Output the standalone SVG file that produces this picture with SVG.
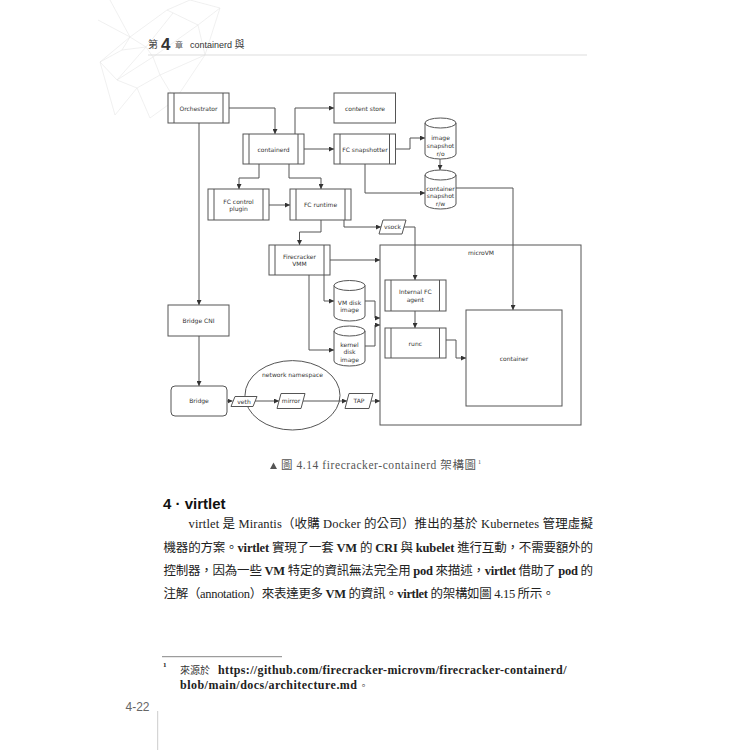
<svg xmlns="http://www.w3.org/2000/svg" width="750" height="750" viewBox="0 0 750 750" xml:lang="zh-TW" lang="zh-TW">
<style>
.box{fill:#fff;stroke:#555;stroke-width:1}
.sep{fill:none;stroke:#555;stroke-width:1}
.edge{fill:none;stroke:#555;stroke-width:1;marker-end:url(#arr)}
.lbl{font-family:"DejaVu Sans",sans-serif;font-size:6px;fill:#333;text-anchor:middle}
.mesh{fill:none;stroke:#e6e6e6;stroke-width:0.6}
.para{font-family:"Liberation Serif","Noto Sans CJK TC",serif;font-size:12.5px;fill:#222}
.b{font-weight:bold}
</style>
<defs>
<marker id="arr" markerUnits="userSpaceOnUse" markerWidth="5" markerHeight="5" refX="5" refY="2.5" orient="auto">
<path d="M0,0 L5,2.5 L0,5 z" fill="#333"/>
</marker>
</defs>
<rect width="750" height="750" fill="#fff"/>

<g id="mesh">
<path class="mesh" d="M100,62 L130,37 L167,10 L190,0 M167,10 L198,25 L220,8 L190,0 M173,13 L146,47 L130,37 L122,50 L100,62 L117,80 L137,88 L160,75 L153,57 L146,47 M122,50 L146,47 L117,80 M153,57 L198,25 L205,55 L160,75 M117,80 L153,57 M137,88 L115,115 L100,62 M137,88 L150,118 L175,100 L160,75 M175,100 L205,55 M98,20 L130,37 L110,0 M205,55 L220,8"/>
</g>

<g id="header">
<text x="148" y="48" font-family="Noto Sans CJK TC,sans-serif" font-size="10" fill="#444">第</text>
<text x="161" y="49.5" font-family="Liberation Sans,sans-serif" font-size="17" font-weight="bold" fill="#333">4</text>
<text x="175" y="47.5" font-family="Noto Sans CJK TC,sans-serif" font-size="8" fill="#555">章</text>
<text x="190" y="47.5" font-family="Liberation Sans,sans-serif" font-size="9" fill="#333">containerd <tspan font-family="Noto Sans CJK TC,sans-serif" font-size="10">與</tspan></text>
<line x1="148" y1="55" x2="587" y2="55" stroke="#ddd" stroke-width="1"/>
</g>

<g id="connectors">
<path class="edge" d="M229,108 H275 V134"/>
<path class="edge" d="M295,134 V108 H334"/>
<path class="edge" d="M304,149 H334"/>
<path class="edge" d="M259,164 V178 H239 V189"/>
<path class="edge" d="M289,164 V178 H321 V189"/>
<path class="edge" d="M269,205 H290"/>
<path class="edge" d="M321,220 V232 H299.5 V245"/>
<path class="edge" d="M344,220 V227 H381"/>
<path class="edge" d="M404,227 H415 V280"/>
<path class="edge" d="M396,149 H410 V138 H425"/>
<path class="edge" d="M365,164 V193 H425"/>
<path class="edge" d="M440,159 V170"/>
<path class="edge" d="M456,188 H513 V310"/>
<path class="edge" d="M199,123 V305"/>
<path class="edge" d="M199,336 V386"/>
<path class="edge" d="M330,260 H380"/>
<path class="edge" d="M324,275 V301 H334"/>
<path class="edge" d="M309,275 V350 H334"/>
<path class="edge" d="M365,301 H375 V318 H380"/>
<path class="edge" d="M365,346 H375 V325 H380"/>
<path class="edge" d="M227,401 H232.5"/>
<path class="edge" d="M255,401 H279"/>
<path class="edge" d="M303,401 H347"/>
<path class="edge" d="M371,401 H380"/>
<path class="edge" d="M415,311 V328"/>
<path class="edge" d="M446,340 H456 V358 H466"/>
</g>

<g id="microVM">
<rect class="box" x="380" y="245" width="201" height="180" style="fill:none"/>
<text class="lbl" x="481" y="254.5">microVM</text>
</g>

<g id="orchestrator">
<rect class="box" x="168" y="93" width="61" height="30"/>
<path class="sep" d="M174,93 V123 M223,93 V123"/>
<text class="lbl" x="198.5" y="110.5">Orchestrator</text>
</g>

<g id="content-store">
<rect class="box" x="334" y="93" width="61.5" height="30"/>
<text class="lbl" x="365" y="110.5">content store</text>
</g>

<g id="containerd">
<rect class="box" x="243" y="134" width="61" height="30"/>
<path class="sep" d="M249,134 V164 M298,134 V164"/>
<text class="lbl" x="273.5" y="151.5">containerd</text>
</g>

<g id="fc-snapshotter">
<rect class="box" x="334" y="134" width="61.5" height="30"/>
<path class="sep" d="M340,134 V164 M389.5,134 V164"/>
<text class="lbl" x="365" y="151.5">FC snapshotter</text>
</g>

<g id="fc-control-plugin">
<rect class="box" x="208" y="189" width="61" height="31"/>
<path class="sep" d="M214,189 V220 M263,189 V220"/>
<text class="lbl" x="238.5" y="203.5">FC control</text>
<text class="lbl" x="238.5" y="211">plugin</text>
</g>

<g id="fc-runtime">
<rect class="box" x="290" y="189" width="61" height="31"/>
<path class="sep" d="M296,189 V220 M345,189 V220"/>
<text class="lbl" x="320.5" y="207">FC runtime</text>
</g>

<g id="vsock">
<polygon class="box" points="383,220 406,220 402,234 379,234"/>
<text class="lbl" x="392.5" y="229.2">vsock</text>
</g>

<g id="image-snapshot">
<path class="box" d="M425,123 a15.5,5 0 0 1 31,0 V154 a15.5,5 0 0 1 -31,0 Z"/>
<path class="sep" d="M425,123 a15.5,5 0 0 0 31,0"/>
<text class="lbl" x="440.5" y="139.8">image</text>
<text class="lbl" x="440.5" y="148">snapshot</text>
<text class="lbl" x="440.5" y="155.5">r/o</text>
</g>

<g id="container-snapshot">
<path class="box" d="M425,175 a15.5,5 0 0 1 31,0 V204 a15.5,5 0 0 1 -31,0 Z"/>
<path class="sep" d="M425,175 a15.5,5 0 0 0 31,0"/>
<text class="lbl" x="440.5" y="190.5">container</text>
<text class="lbl" x="440.5" y="198.2">snapshot</text>
<text class="lbl" x="440.5" y="205.5">r/w</text>
</g>

<g id="firecracker-vmm">
<rect class="box" x="269" y="245" width="61" height="30"/>
<path class="sep" d="M275,245 V275 M324,245 V275"/>
<text class="lbl" x="299.5" y="258.8">Firecracker</text>
<text class="lbl" x="299.5" y="266.2">VMM</text>
</g>

<g id="vm-disk-image">
<path class="box" d="M334,285.5 a15.5,5 0 0 1 31,0 V316 a15.5,5 0 0 1 -31,0 Z"/>
<path class="sep" d="M334,285.5 a15.5,5 0 0 0 31,0"/>
<text class="lbl" x="349.5" y="304.5">VM disk</text>
<text class="lbl" x="349.5" y="312.2">image</text>
</g>

<g id="kernel-disk-image">
<path class="box" d="M334,331 a15.5,5 0 0 1 31,0 V361 a15.5,5 0 0 1 -31,0 Z"/>
<path class="sep" d="M334,331 a15.5,5 0 0 0 31,0"/>
<text class="lbl" x="349.5" y="346.5">kernel</text>
<text class="lbl" x="349.5" y="354">disk</text>
<text class="lbl" x="349.5" y="361.5">image</text>
</g>

<g id="bridge-cni">
<rect class="box" x="168" y="305" width="61" height="31"/>
<text class="lbl" x="198.5" y="322.7">Bridge CNI</text>
</g>

<g id="bridge">
<rect class="box" x="171" y="386" width="56" height="30" rx="4" ry="4"/>
<text class="lbl" x="199" y="403.2">Bridge</text>
</g>

<g id="network-namespace">
<ellipse class="box" cx="292.5" cy="395.3" rx="47.5" ry="34.7" style="fill:none"/>
<text class="lbl" x="292.5" y="377.2">network namespace</text>
</g>

<g id="veth">
<polygon class="box" points="235,396.5 257,396.5 253,406.5 231,406.5"/>
<text class="lbl" x="244" y="403.7">veth</text>
</g>

<g id="mirror">
<polygon class="box" points="281,393.5 305,393.5 301,408.5 277,408.5"/>
<text class="lbl" x="291" y="403">mirror</text>
</g>

<g id="tap">
<polygon class="box" points="349,393.5 373,393.5 369,408.5 345,408.5"/>
<text class="lbl" x="359" y="403">TAP</text>
</g>

<g id="internal-fc-agent">
<rect class="box" x="385" y="280" width="61" height="31"/>
<path class="sep" d="M391,280 V311 M439.5,280 V311"/>
<text class="lbl" x="415.3" y="293.9">Internal FC</text>
<text class="lbl" x="415.3" y="302.2">agent</text>
</g>

<g id="runc">
<rect class="box" x="385" y="328" width="61" height="30"/>
<path class="sep" d="M391,328 V358 M439.5,328 V358"/>
<text class="lbl" x="415.3" y="345.5">runc</text>
</g>

<g id="container">
<rect class="box" x="466" y="310" width="96" height="96"/>
<text class="lbl" x="514" y="360.5">container</text>
</g>

<g id="caption">
<polygon points="270,469 273.5,462.5 277,469" fill="#555"/>
<text x="281" y="469" font-family="Liberation Serif,Noto Sans CJK TC,serif" font-size="11.5" fill="#555" textLength="195" lengthAdjust="spacing">圖 4.14  firecracker-containerd 架構圖</text>
<text x="478" y="463.5" font-family="Liberation Serif,serif" font-size="6" fill="#555">1</text>
</g>

<g id="body">
<text x="163" y="509" font-family="Liberation Sans,Noto Sans CJK TC,sans-serif" font-size="15" font-weight="bold" fill="#111">4 · virtlet</text>
<text class="para" x="188.5" y="528" textLength="404.5" lengthAdjust="spacing">virtlet 是 Mirantis（收購 Docker 的公司）推出的基於 Kubernetes 管理虛擬</text>
<text class="para" x="163.5" y="551.5" textLength="429.5" lengthAdjust="spacing">機器的方案。<tspan class="b">virtlet</tspan> 實現了一套 <tspan class="b">VM</tspan> 的 <tspan class="b">CRI</tspan> 與 <tspan class="b">kubelet</tspan> 進行互動，不需要額外的</text>
<text class="para" x="163.5" y="575" textLength="429.5" lengthAdjust="spacing">控制器，因為一些 <tspan class="b">VM</tspan> 特定的資訊無法完全用 <tspan class="b">pod</tspan> 來描述，<tspan class="b">virtlet</tspan> 借助了 <tspan class="b">pod</tspan> 的</text>
<text class="para" x="163.5" y="598" textLength="391" lengthAdjust="spacing">注解（annotation）來表達更多 <tspan class="b">VM</tspan> 的資訊。<tspan class="b">virtlet</tspan> 的架構如圖 4.15 所示。</text>
</g>

<g id="footnote">
<line x1="162" y1="656.7" x2="282" y2="656.7" stroke="#666" stroke-width="0.8"/>
<text x="163" y="667" font-family="Liberation Serif,serif" font-size="7" font-weight="bold" fill="#222">1</text>
<text x="180" y="674" font-family="Noto Sans CJK TC,sans-serif" font-size="10" fill="#333">來源於</text>
<text x="218" y="674" font-family="Liberation Serif,serif" font-size="12" font-weight="bold" fill="#222" textLength="348.5" lengthAdjust="spacing">https://github.com/firecracker-microvm/firecracker-containerd/</text>
<text x="180" y="689" font-family="Liberation Serif,serif" font-size="12" font-weight="bold" fill="#222" textLength="177" lengthAdjust="spacing">blob/main/docs/architecture.md</text>
<text x="359" y="689" font-family="Noto Sans CJK TC,sans-serif" font-size="9" fill="#333">。</text>
</g>

<g id="page">
<text x="125.5" y="711" font-family="Liberation Sans,sans-serif" font-size="12" fill="#666">4-22</text>
<line x1="157.7" y1="711" x2="157.7" y2="750" stroke="#ccc" stroke-width="1"/>
</g>
</svg>
